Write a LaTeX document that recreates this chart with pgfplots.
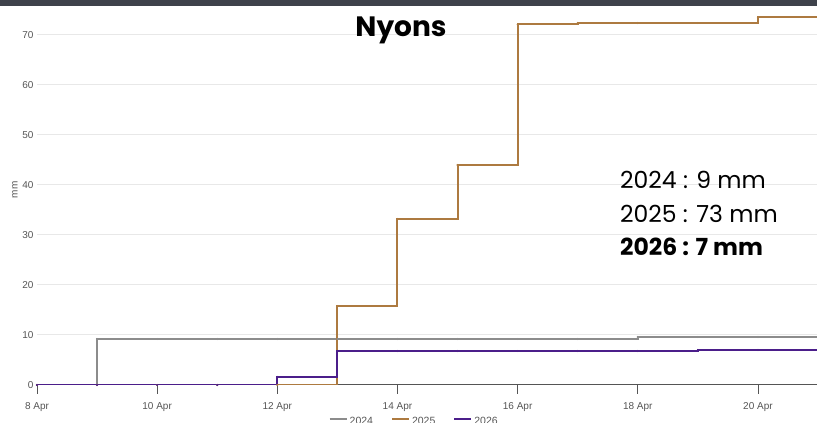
\documentclass[border=0pt]{standalone}
\usepackage{pgfplots}
\pgfplotsset{compat=1.18}
\usepackage{fontspec}
\setmainfont{Liberation Sans}
\newfontfamily\pop{Poppins}
\definecolor{cgray}{HTML}{8C8C8C}
\definecolor{cbrown}{HTML}{AD7A40}
\definecolor{cpurple}{HTML}{4B1E8A}
\definecolor{bar}{HTML}{3E424B}
\definecolor{gridc}{HTML}{E8E8E8}
\definecolor{tickc}{HTML}{555555}
\begin{document}
\begin{tikzpicture}
\useasboundingbox (-37pt,-38pt) rectangle (780pt,385pt);
\clip (-37pt,-38pt) rectangle (780pt,385pt);
\begin{axis}[
  at={(0pt,0pt)}, anchor=south west,
  scale only axis, width=781pt, height=375pt,
  xmin=8, xmax=21, ymin=0, ymax=75,
  axis line style={draw=none},
  axis x line*=bottom, axis y line*=left,
  tick align=outside,
  xtick={8,10,12,14,16,18,20},
  xticklabels={8 Apr,10 Apr,12 Apr,14 Apr,16 Apr,18 Apr,20 Apr},
  ytick={0,10,20,30,40,50,60,70},
  ymajorgrids, grid style={gridc, line width=1pt},
  tick label style={font=\fontsize{10}{11}\selectfont, text=tickc},
  /pgf/number format/assume math mode=true,
  x tick style={draw=tickc, line width=0.8pt},
  major tick length=9pt,
  y tick style={draw=none},
  yticklabel style={xshift=9pt},
  xticklabel style={anchor=center, yshift=-13pt},
  legend style={at={(0.483,-0.097)}, anchor=center, draw=none, fill=none,
    font=\fontsize{10.5}{11}\selectfont, text=tickc, /tikz/every even column/.append style={column sep=16pt}},
  legend columns=3,
  legend image code/.code={\draw[#1, mark=none, line width=2pt] (0pt,2pt) -- (17pt,2pt);},
]
\draw[tickc, line width=1pt] (axis cs:8,0) -- (axis cs:21,0);
\addplot[draw=cgray, line width=2pt, no marks, line join=miter] coordinates {(8,0)(9,0)(9,9.2)(18,9.2)(18,9.6)(21,9.6)};
\addplot[draw=cbrown, line width=2pt, no marks, line join=miter] coordinates {(8,0)(13,0)(13,15.8)(14,15.8)(14,33.2)(15,33.2)(15,44.0)(16,44.0)(16,72.1)(17,72.1)(17,72.4)(20,72.4)(20,73.5)(21,73.5)};
\addplot[draw=cpurple, line width=2pt, no marks, line join=miter] coordinates {(8,0)(12,0)(12,1.6)(13,1.6)(13,6.8)(19,6.8)(19,7.0)(21,7.0)};
\legend{2024,2025,2026}
\addplot[only marks, mark=*, mark size=0.8pt, cgray, forget plot] coordinates {(8,0)(9,9.2)(10,9.2)(11,9.2)(12,9.2)(13,9.2)(14,9.2)(15,9.2)(16,9.2)(17,9.2)(18,9.6)(19,9.6)(20,9.6)};
\addplot[only marks, mark=*, mark size=0.8pt, cbrown, forget plot] coordinates {(8,0)(9,0)(10,0)(11,0)(12,0)(13,15.8)(14,33.2)(15,44.0)(16,72.1)(17,72.4)(18,72.4)(19,72.4)(20,73.5)};
\addplot[only marks, mark=*, mark size=0.8pt, cpurple, forget plot] coordinates {(8,0)(9,0)(10,0)(11,0)(12,1.6)(13,6.8)(14,6.8)(15,6.8)(16,6.8)(17,6.8)(18,6.8)(19,7.0)(20,7.0)};
\end{axis}
\fill[bar] (-37pt,379pt) rectangle (780pt,385pt);
\node[rotate=90, font=\fontsize{10}{11}\selectfont, text=tickc] at (-22pt,195pt) {mm};
\node[font=\pop\bfseries\fontsize{28}{30}\selectfont, anchor=base] at (364pt,348pt) {Nyons};
\node[font=\pop\fontsize{23.5}{25}\selectfont, anchor=base west, inner sep=0pt] at (583pt,196pt) {2024 : 9 mm};
\node[font=\pop\fontsize{23.5}{25}\selectfont, anchor=base west, inner sep=0pt] at (583pt,162pt) {2025 : 73 mm};
\node[font=\pop\bfseries\fontsize{23.5}{25}\selectfont, anchor=base west, inner sep=0pt] at (583pt,129pt) {2026 : 7 mm};
\end{tikzpicture}
\end{document}
